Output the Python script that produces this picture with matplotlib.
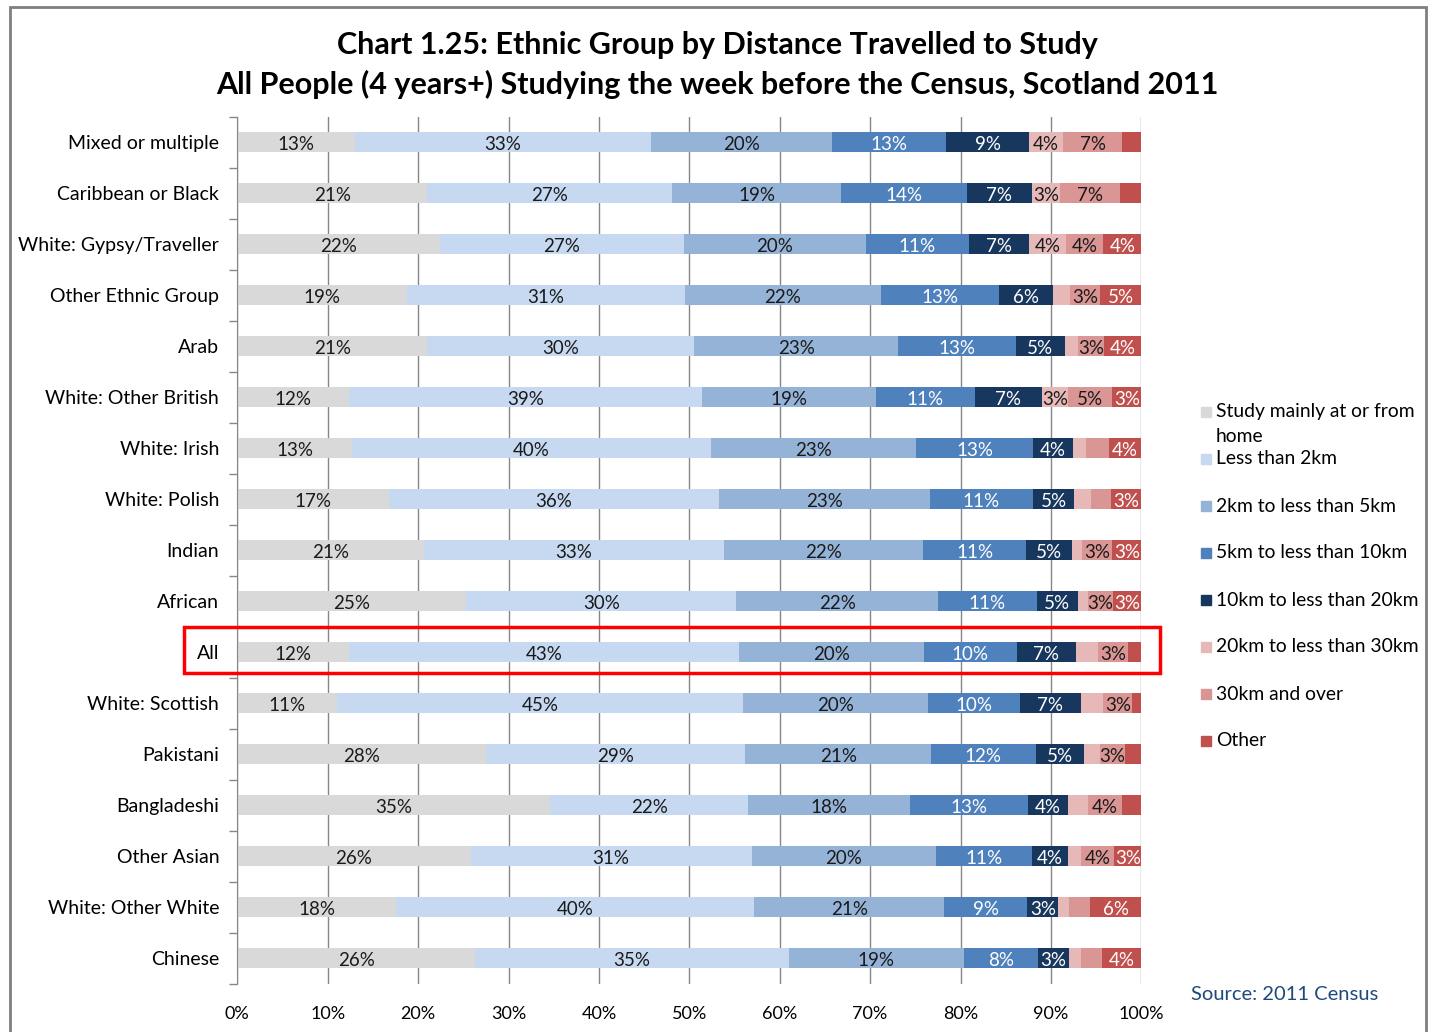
"""
Chart 1.25: ethnic group by distance travelled to study, Scotland 2011.
"""

import numpy as np
import matplotlib.pyplot as plt
from matplotlib.patches import Rectangle

plt.rcParams["font.family"] = ["Lato", "DejaVu Sans"]

W, H = 1435, 1032

GROUPS = [
    "Mixed or multiple", "Caribbean or Black", "White: Gypsy/Traveller",
    "Other Ethnic Group", "Arab", "White: Other British", "White: Irish",
    "White: Polish", "Indian", "African", "All", "White: Scottish",
    "Pakistani", "Bangladeshi", "Other Asian", "White: Other White", "Chinese",
]

HOME = [13.0, 21.0, 22.4, 18.8, 21.0, 12.4, 12.7, 16.8, 20.6, 25.4, 12.4, 11.0, 27.6, 34.6, 25.8, 17.6, 26.3]
LT_2KM = [32.8, 27.1, 27.0, 30.7, 29.6, 39.0, 39.7, 36.4, 33.2, 29.9, 43.2, 44.9, 28.7, 21.9, 31.1, 39.6, 34.7]
KM_2_5 = [20.1, 18.7, 20.1, 21.7, 22.6, 19.2, 22.8, 23.3, 22.0, 22.4, 20.4, 20.4, 20.6, 17.9, 20.4, 21.0, 19.4]
KM_5_10 = [12.6, 13.9, 11.4, 13.1, 13.0, 11.0, 12.9, 11.4, 11.4, 10.9, 10.3, 10.2, 11.6, 13.1, 10.6, 9.2, 8.2]
KM_10_20 = [9.2, 7.2, 6.7, 5.9, 5.4, 7.4, 4.4, 4.6, 5.0, 4.6, 6.6, 6.7, 5.4, 4.4, 4.0, 3.4, 3.4]
KM_20_30 = [3.7, 3.1, 4.1, 1.9, 1.5, 2.9, 1.5, 1.8, 1.2, 1.1, 2.4, 2.5, 1.7, 2.2, 1.4, 1.2, 1.3]
KM_30_PLUS = [6.6, 6.6, 4.1, 3.3, 2.9, 4.9, 2.5, 2.2, 3.3, 2.8, 3.3, 3.2, 2.8, 3.8, 3.7, 2.3, 2.3]
OTHER = [2.1, 2.4, 4.2, 4.6, 4.1, 3.2, 3.6, 3.4, 3.2, 3.1, 1.5, 1.0, 1.8, 2.1, 3.0, 5.7, 4.4]

SERIES = ["Study mainly at or from\nhome", "Less than 2km", "2km to less than 5km",
          "5km to less than 10km", "10km to less than 20km", "20km to less than 30km",
          "30km and over", "Other"]
COLORS = ["#D9D9D9", "#C6D9F1", "#95B3D7", "#4F81BD", "#17375E", "#E6B9B8", "#D99694", "#C0504D"]
TEXT_COLORS = ["#1a1a1a", "#1a1a1a", "#1a1a1a", "white", "white", "#1a1a1a", "#1a1a1a", "white"]

TITLE = ("Chart 1.25: Ethnic Group by Distance Travelled to Study",
         "All People (4 years+) Studying the week before the Census, Scotland 2011")


def fx(px):
    return px / W


def fy(py):
    return 1 - py / H


def main():
    data = np.array([HOME, LT_2KM, KM_2_5, KM_5_10, KM_10_20, KM_20_30, KM_30_PLUS, OTHER])
    data = data / data.sum(axis=0) * 100
    n = len(GROUPS)
    y = np.arange(n)

    fig = plt.figure(figsize=(W / 100, H / 100), dpi=100)
    ax = fig.add_axes([fx(237.3), fy(983.5), fx(1141.3 - 237.3), (983.5 - 116.5) / H])

    left = np.zeros(n)
    for vals, col, tcol in zip(data, COLORS, TEXT_COLORS):
        ax.barh(y, vals, left=left, height=0.39, color=col, zorder=2)
        for yi, (l, v) in enumerate(zip(left, vals)):
            if v >= 2.75:
                ax.text(l + v / 2, yi + 0.04, f"{v:.0f}%", ha="center", va="center",
                        fontsize=13.5, color=tcol, zorder=3)
        left += vals

    ax.set_xlim(0, 100)
    ax.set_ylim(n - 0.5, -0.5)
    ax.set_xticks(range(0, 101, 10))
    ax.set_xticklabels([f"{v}%" for v in range(0, 101, 10)], fontsize=13)
    ax.set_yticks(y)
    ax.set_yticklabels(GROUPS, fontsize=14)
    ax.set_yticks(np.arange(n + 1) - 0.5, minor=True)
    ax.tick_params(axis="y", which="major", length=0, pad=13)
    ax.tick_params(axis="y", which="minor", length=6, color="#868686", width=1)
    ax.tick_params(axis="x", length=0, pad=16)
    ax.grid(axis="x", color="#868686", linewidth=1, zorder=0)
    ax.set_axisbelow(True)
    for side in ["top", "right", "bottom"]:
        ax.spines[side].set_visible(False)
    ax.spines["left"].set_color("#868686")

    fig.text(0.5, fy(45), TITLE[0], ha="center", va="center", fontsize=22, fontweight="bold")
    fig.text(0.5, fy(84), TITLE[1], ha="center", va="center", fontsize=22, fontweight="bold")

    # legend drawn by hand so the wrapped first entry lines up like the original
    leg_y = [412, 459, 506, 553, 600, 647, 694, 741]
    for name, col, ly in zip(SERIES, COLORS, leg_y):
        fig.patches.append(Rectangle((fx(1201), fy(ly + 5)), fx(10), 10 / H,
                                     transform=fig.transFigure, color=col))
        for i, line in enumerate(name.split("\n")):
            fig.text(fx(1216), fy(ly + i * 24), line, ha="left", va="center", fontsize=13.9)

    fig.text(fx(1191), fy(995), "Source: 2011 Census", ha="left", va="center",
             fontsize=14.5, color="#1F497D")

    # red highlight round the "All" row
    fig.patches.append(Rectangle((fx(184), fy(673)), fx(1160 - 184), (673 - 627) / H,
                                 transform=fig.transFigure, fill=False, ec="#FF0000", lw=2.5))
    # chart border
    fig.patches.append(Rectangle((fx(10), fy(1040)), fx(1426 - 10), (1040 - 7) / H,
                                 transform=fig.transFigure, fill=False, ec="#7F7F7F", lw=2))

    fig.savefig("out.png", dpi=100)
    plt.close(fig)


if __name__ == "__main__":
    main()
